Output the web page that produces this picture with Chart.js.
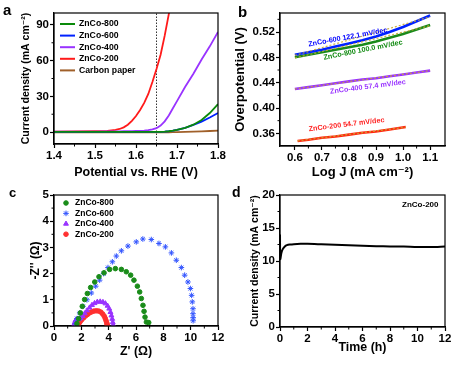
<!DOCTYPE html>
<html>
<head>
<meta charset="utf-8">
<script src="https://cdn.jsdelivr.net/npm/chart.js@4/dist/chart.umd.min.js"></script>
<style>
body { margin:0; width:454px; height:365px; overflow:hidden; background:#fff; position:relative; font-family:"Liberation Sans", Arial, sans-serif; }
canvas { position:absolute; }
.tag { position:absolute; font-weight:bold; line-height:1; color:#000; }
</style>
</head>
<body>
<canvas id="lsv" width="232" height="180" style="left:0;top:0"></canvas>
<canvas id="tafel" width="227" height="180" style="left:227px;top:0"></canvas>
<canvas id="eis" width="232" height="185" style="left:0;top:180px"></canvas>
<canvas id="stab" width="227" height="185" style="left:227px;top:180px"></canvas>
<div class="tag" style="left:3px;top:2px;font-size:15px">a</div>
<div class="tag" style="left:238px;top:4px;font-size:15px">b</div>
<div class="tag" style="left:9px;top:186px;font-size:13px">c</div>
<div class="tag" style="left:232px;top:185px;font-size:14px">d</div>
<script>
const FONT = '"Liberation Sans", "DejaVu Sans", Arial, sans-serif';

// --- a: LSV curves
const lsvPotential = [1.40,1.45,1.50,1.53,1.55,1.56,1.57,1.58,1.59,1.60,1.61,1.62,1.63,1.64,1.65,1.66,1.67,1.68,1.69,1.70,1.72,1.74,1.76,1.78,1.80];
const lsv800 = [0.1,0.1,0.1,0.1,0.1,0.1,0.1,0.1,0.1,0.1,0.1,0.1,0.1,0.1,0.15,0.2,0.4,0.7,1.2,1.8,3.5,6.2,10.2,16,23.5];
const lsv600 = [0.1,0.1,0.1,0.1,0.1,0.1,0.1,0.1,0.1,0.1,0.1,0.1,0.1,0.1,0.15,0.2,0.4,0.7,1.2,1.9,3.6,6.0,8.8,12.2,16];
const lsv400 = [0.3,0.3,0.4,0.5,0.6,0.6,0.7,0.7,0.8,0.9,1.0,1.2,1.6,2.3,3.3,5.5,9,14,20,26,38,49,61,72,84];
const lsv200 = [0.4,0.5,0.7,1.0,1.8,2.6,4.0,6.2,9.5,13.5,18.5,24.5,32,42,53,65,81,99,118,null,null,null,null,null,null];
const lsvCarbon = [-0.3,-0.3,-0.3,-0.3,-0.3,-0.3,-0.3,-0.3,-0.3,-0.3,-0.3,-0.3,-0.3,-0.3,-0.3,-0.25,-0.2,-0.15,-0.1,0,0.2,0.4,0.6,0.9,1.2];
const lsvMarker = 1.65;
const aTicksX = [1.4,1.5,1.6,1.7,1.8], aMinorX = [1.45,1.55,1.65,1.75];
const aTicksY = [0,30,60,90], aMinorY = [15,45,75];

// --- b: Tafel
const tafelX = [0.60,0.65,0.70,0.75,0.80,0.85,0.90,0.95,1.00,1.05,1.10];
const tafel600 = [0.484,0.488,0.492,0.497,0.502,0.507,0.513,0.520,0.528,0.537,0.546];
const tafel800 = [0.480,0.484,0.488,0.492,0.496,0.500,0.505,0.511,0.517,0.524,0.531];
const tafel400 = [0.430,0.433,0.436,0.439,0.442,0.445,0.447,0.450,0.453,0.456,0.459];
const tafel200X = [0.61,0.65,0.70,0.75,0.80,0.85,0.90,0.95,1.01];
const tafel200 = [0.348,0.350,0.353,0.355,0.358,0.361,0.363,0.366,0.370];
const fitX = [0.60,1.10], fit600 = [0.483,0.544], fit800 = [0.479,0.530], fit400 = [0.430,0.459];
const fit200X = [0.61,1.01], fit200 = [0.348,0.3695];
const tafelNotes = [
  {text:'ZnCo-600 122.1 mV/dec', x:0.796, y:0.5117, rot:10.4, color:'#0000ff'},
  {text:'ZnCo-800 100.0 mV/dec', x:0.852, y:0.4915, rot:11.2, color:'#108a10'},
  {text:'ZnCo-400 57.4 mV/dec', x:0.870, y:0.4333, rot:7.3, color:'#9933ff'},
  {text:'ZnCo-200 54.7 mV/dec', x:0.791, y:0.3737, rot:7.1, color:'#ff2020'}
];
const bTicksX = [0.6,0.7,0.8,0.9,1.0,1.1], bMinorX = [0.65,0.75,0.85,0.95,1.05];
const bTicksY = [0.36,0.40,0.44,0.48,0.52], bMinorY = [0.38,0.42,0.46,0.50,0.54];

// --- c: Nyquist
const eis800X = [1.68,1.8,1.93,2.07,2.24,2.44,2.68,2.98,3.29,3.66,4.07,4.49,4.93,5.29,5.61,5.85,6.1,6.27,6.39,6.51,6.59,6.66,6.76,6.93];
const eis800Y = [0.09,0.28,0.5,0.75,1.01,1.24,1.47,1.68,1.88,2.03,2.16,2.19,2.16,2.07,1.94,1.75,1.52,1.3,1.05,0.79,0.56,0.34,0.15,0.13];
const eis600X = [1.59,1.68,1.88,2.12,2.41,2.73,3.05,3.34,3.63,3.95,4.27,4.56,4.93,5.41,6.02,6.5,7.12,7.68,8.15,8.59,8.95,9.32,9.56,9.8,9.98,10.07,10.12,10.17,10.17,10.18,10.18];
const eis600Y = [0.09,0.28,0.5,0.75,1.0,1.26,1.52,1.75,2.0,2.23,2.45,2.67,2.87,3.05,3.21,3.32,3.3,3.15,3.02,2.79,2.51,2.23,1.94,1.68,1.43,1.17,0.92,0.66,0.47,0.32,0.2];
const eis400X = [1.44,1.5,1.56,1.63,1.72,1.82,1.95,2.1,2.25,2.42,2.6,2.78,2.97,3.17,3.38,3.58,3.76,3.92,4.04,4.13,4.2,4.26,4.3,4.33];
const eis400Y = [0.02,0.12,0.2,0.25,0.26,0.26,0.3,0.38,0.48,0.59,0.7,0.8,0.87,0.92,0.93,0.91,0.86,0.77,0.66,0.53,0.4,0.27,0.14,0.04];
const eis200X = [1.76,1.83,1.92,2.03,2.16,2.3,2.45,2.6,2.76,2.93,3.1,3.27,3.43,3.56,3.67,3.75,3.81,3.86,3.89,3.9];
const eis200Y = [0.03,0.1,0.17,0.24,0.31,0.38,0.44,0.5,0.54,0.57,0.58,0.57,0.53,0.46,0.38,0.29,0.2,0.12,0.06,0.02];
const cTicksX = [0,2,4,6,8,10,12], cMinorX = [1,3,5,7,9,11];
const cTicksY = [0,1,2,3,4,5], cMinorY = [0.5,1.5,2.5,3.5,4.5];

// --- d: stability
const stabTime = [0,0.02,0.1,0.2,0.35,0.5,0.75,1,1.5,2,2.5,3,4,5,6,7,8,9,10,11,12];
const stabCurrent = [14,10.3,11.2,11.8,12.2,12.4,12.5,12.55,12.6,12.6,12.58,12.52,12.45,12.38,12.3,12.25,12.2,12.18,12.12,12.12,12.2];
const dTicksX = [0,2,4,6,8,10,12], dMinorX = [1,3,5,7,9,11];
const dTicksY = [0,5,10,15,20], dMinorY = [2.5,7.5,12.5,17.5];

const pts = (xs, ys) => xs.map((x, i) => ({x, y: ys[i]}));

function axis(o) {
  const left = o.pos === 'left';
  return {
    type: 'linear', position: o.pos, min: o.min, max: o.max,
    afterBuildTicks: s => { s.ticks = o.ticks.map(v => ({value: v})); },
    afterFit: s => { if (left) s.width = o.size; else s.height = o.size; },
    grid: {drawOnChartArea: false, tickLength: 4, tickColor: '#000', tickWidth: 1.2},
    border: {color: '#000', width: 1.2},
    ticks: {color: '#000', padding: 1, autoSkip: false, maxRotation: 0,
      font: {family: FONT, size: 11.5, weight: 'bold'},
      callback: v => Number(v).toFixed(o.fmt)},
    title: {display: true, text: o.title, color: '#000',
      font: {family: FONT, size: o.tsize, weight: 'bold'},
      padding: left ? {top: o.tpad, bottom: 0} : {top: 0, bottom: o.tpad}}
  };
}

const frame = {
  id: 'frame',
  afterDraw(chart, args, opts) {
    const {ctx, chartArea: a, scales} = chart;
    ctx.save();
    ctx.strokeStyle = '#000';
    ctx.lineWidth = 1.2;
    ctx.strokeRect(a.left, a.top, a.right - a.left, a.bottom - a.top);
    ctx.lineWidth = 1;
    ctx.beginPath();
    (opts.minorX || []).forEach(v => {
      const x = scales.x.getPixelForValue(v);
      ctx.moveTo(x, a.bottom); ctx.lineTo(x, a.bottom + 2.5);
    });
    (opts.minorY || []).forEach(v => {
      const y = scales.y.getPixelForValue(v);
      ctx.moveTo(a.left, y); ctx.lineTo(a.left - 2.5, y);
    });
    ctx.stroke();

    (opts.notes || []).forEach(n => {
      ctx.save();
      ctx.translate(scales.x.getPixelForValue(n.x), scales.y.getPixelForValue(n.y));
      ctx.rotate(-(n.rot || 0) * Math.PI / 180);
      ctx.fillStyle = n.color;
      ctx.font = 'bold ' + n.size + 'px ' + FONT;
      ctx.textAlign = 'center';
      ctx.textBaseline = 'middle';
      ctx.fillText(n.text, 0, 0);
      ctx.restore();
    });

    const lg = opts.legend;
    if (lg) {
      ctx.font = 'bold ' + lg.size + 'px ' + FONT;
      ctx.textBaseline = 'middle';
      ctx.textAlign = 'left';
      chart.data.datasets.filter(d => !d.noLegend).forEach((d, i) => {
        const y = a.top + lg.y + i * lg.gap;
        const x = a.left + lg.x;
        ctx.fillStyle = d.borderColor;
        ctx.strokeStyle = d.borderColor;
        if (lg.line) {
          ctx.lineWidth = 2;
          ctx.beginPath(); ctx.moveTo(x, y); ctx.lineTo(x + lg.line, y); ctx.stroke();
        } else if (Chart.helpers && Chart.helpers.drawPoint) {
          ctx.lineWidth = d.pointBorderWidth || 1;
          Chart.helpers.drawPoint(ctx, {pointStyle: d.pointStyle, radius: d.pointRadius, rotation: 0, borderWidth: d.pointBorderWidth || 1}, x, y);
        } else {
          ctx.beginPath(); ctx.arc(x, y, d.pointRadius, 0, Math.PI * 2); ctx.fill();
        }
        ctx.fillStyle = '#000';
        ctx.fillText(d.label, x + lg.tx, y);
      });
    }
    ctx.restore();
  }
};
Chart.register(frame);

const base = (pad, plugins) => ({
  responsive: false, animation: false, devicePixelRatio: 1,
  layout: {padding: pad},
  plugins: Object.assign({legend: {display: false}, tooltip: {enabled: false}}, plugins)
});

// a
const lsvLine = (label, ys, color) => ({label, data: pts(lsvPotential, ys), showLine: true,
  borderColor: color, borderWidth: 1.8, pointRadius: 0});
new Chart(document.getElementById('lsv'), {
  type: 'scatter',
  data: {datasets: [
    lsvLine('ZnCo-800', lsv800, '#0a8a0a'),
    lsvLine('ZnCo-600', lsv600, '#0022ff'),
    lsvLine('ZnCo-400', lsv400, '#9933ff'),
    lsvLine('ZnCo-200', lsv200, '#ff1a1a'),
    lsvLine('Carbon paper', lsvCarbon, '#a0602a'),
    {label: 'marker', noLegend: true, data: [{x: lsvMarker, y: -10}, {x: lsvMarker, y: 100}], showLine: true,
      borderColor: '#333', borderWidth: 1, borderDash: [1.5, 1.5], pointRadius: 0}
  ]},
  options: Object.assign(base({top: 13, right: 14, bottom: 0, left: 0}, {
    frame: {minorX: aMinorX, minorY: aMinorY, legend: {x: 6, y: 11, gap: 11.6, line: 15, tx: 19, size: 8.7}}
  }), {scales: {
    x: axis({pos: 'bottom', min: 1.4, max: 1.8, ticks: aTicksX, fmt: 1, size: 36, title: 'Potential vs. RHE (V)', tsize: 12.5, tpad: 0}),
    y: axis({pos: 'left', min: -10, max: 100, ticks: aTicksY, fmt: 0, size: 54, title: 'Current density (mA cm\u207B\u00B2)', tsize: 10.5, tpad: 19.7})
  }})
});

// b
const tafelLine = (label, xs, ys, color) => ({label, data: pts(xs, ys), showLine: true,
  borderColor: color, borderWidth: 2.6, pointRadius: 0});
const fitLine = (xs, ys) => ({label: 'fit', noLegend: true, data: pts(xs, ys), showLine: true,
  borderColor: 'rgba(200,170,50,0.9)', borderWidth: 1.2, borderDash: [2, 2], pointRadius: 0});
new Chart(document.getElementById('tafel'), {
  type: 'scatter',
  data: {datasets: [
    fitLine(fitX, fit600), fitLine(fitX, fit800), fitLine(fitX, fit400), fitLine(fit200X, fit200),
    tafelLine('ZnCo-600', tafelX, tafel600, '#0022ff'),
    tafelLine('ZnCo-800', tafelX, tafel800, '#1a8a1a'),
    tafelLine('ZnCo-400', tafelX, tafel400, '#9933ff'),
    tafelLine('ZnCo-200', tafel200X, tafel200, '#ff2a10')
  ]},
  options: Object.assign(base({top: 13, right: 9, bottom: 0, left: 0}, {
    frame: {minorX: bMinorX, minorY: bMinorY, notes: tafelNotes.map(n => Object.assign({size: 7.2}, n))}
  }), {scales: {
    x: axis({pos: 'bottom', min: 0.545, max: 1.155, ticks: bTicksX, fmt: 1, size: 34, title: 'Log J (mA cm\u207B\u00B2)', tsize: 13, tpad: 0}),
    y: axis({pos: 'left', min: 0.34, max: 0.55, ticks: bTicksY, fmt: 2, size: 53, title: 'Overpotential (V)', tsize: 13, tpad: 5.2})
  }})
});

// c
const eisSet = (label, xs, ys, color, style, r) => ({label, data: pts(xs, ys),
  borderColor: color, backgroundColor: color, pointStyle: style, pointRadius: r, pointBorderWidth: 1});
new Chart(document.getElementById('eis'), {
  type: 'scatter',
  data: {datasets: [
    eisSet('ZnCo-800', eis800X, eis800Y, '#1a8c1a', 'circle', 2.3),
    eisSet('ZnCo-600', eis600X, eis600Y, '#3355ff', 'star', 2.8),
    eisSet('ZnCo-400', eis400X, eis400Y, '#9933ff', 'triangle', 2.8),
    eisSet('ZnCo-200', eis200X, eis200Y, '#ff3030', 'circle', 2.3)
  ]},
  options: Object.assign(base({top: 15, right: 14, bottom: 0, left: 0}, {
    frame: {minorX: cMinorX, minorY: cMinorY, legend: {x: 12, y: 8, gap: 10.4, tx: 9, size: 8.5}}
  }), {scales: {
    x: axis({pos: 'bottom', min: 0, max: 12, ticks: cTicksX, fmt: 0, size: 39, title: "Z' (\u03A9)", tsize: 12.4, tpad: 5.5}),
    y: axis({pos: 'left', min: 0, max: 5, ticks: cTicksY, fmt: 0, size: 54, title: "-Z'' (\u03A9)", tsize: 12, tpad: 28})
  }})
});

// d
new Chart(document.getElementById('stab'), {
  type: 'scatter',
  data: {datasets: [
    {label: 'ZnCo-200', data: pts(stabTime, stabCurrent), showLine: true, borderColor: '#000', borderWidth: 2, pointRadius: 0, tension: 0.3}
  ]},
  options: Object.assign(base({top: 15, right: 9, bottom: 0, left: 0}, {
    frame: {minorX: dMinorX, minorY: dMinorY, notes: [{text: 'ZnCo-200', x: 10.2, y: 18.5, color: '#000', size: 8}]}
  }), {scales: {
    x: axis({pos: 'bottom', min: 0, max: 12, ticks: dTicksX, fmt: 0, size: 38, title: 'Time (h)', tsize: 12.4, tpad: 9.5}),
    y: axis({pos: 'left', min: 0, max: 20, ticks: dTicksY, fmt: 0, size: 53, title: 'Current density (mA cm\u207B\u00B2)', tsize: 10.5, tpad: 21.7})
  }})
});
</script>
</body>
</html>
